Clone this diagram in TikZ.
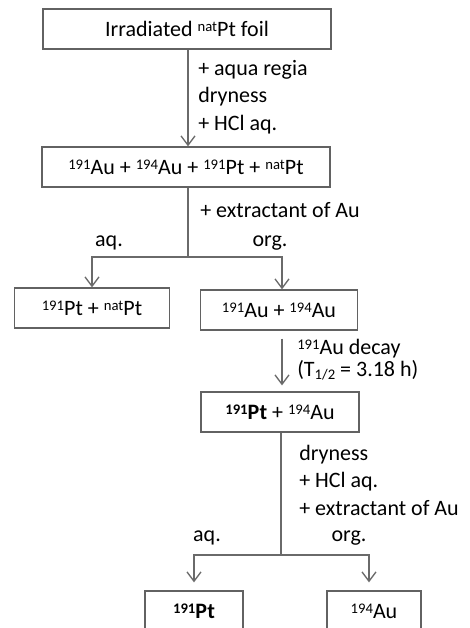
\documentclass[tikz,border=0pt]{standalone}
\usepackage{fontspec}
\setmainfont{Carlito}
\usetikzlibrary{arrows.meta,positioning}
\definecolor{linegray}{HTML}{6A6A6A}
\definecolor{boxgray}{HTML}{626262}
\newcommand{\iso}[1]{\raisebox{3.6pt}{\fontsize{11}{11}\selectfont #1}}
\newcommand{\lowidx}[1]{\raisebox{-2.5pt}{\fontsize{11}{11}\selectfont #1}}

\begin{document}
\begin{tikzpicture}[x=0.75pt, y=-0.75pt, >={Straight Barb[length=7pt,width=10.5pt]},
  box/.style={draw=boxgray, line width=1pt, minimum height=30pt, inner sep=0pt, font=\fontsize{16.5}{19}\selectfont},
  flow/.style={draw=linegray, line width=1pt},
  note/.style={anchor=west, align=left, inner sep=0pt, font=\fontsize{16.5}{20.6}\selectfont},
  phase/.style={inner sep=0pt, font=\fontsize{16.5}{19}\selectfont}]

\useasboundingbox (0,0) rectangle (469,628);

% Boxes
\node[box, minimum width=216pt] (foil) at (187,29) {Irradiated \iso{nat}Pt foil};
\node[box, minimum width=216pt] (mix) at (186,167) {\iso{191}Au + \iso{194}Au + \iso{191}Pt + \iso{nat}Pt};
\node[box, minimum width=116pt] (ptaq) at (92,308) {\iso{191}Pt + \iso{nat}Pt};
\node[box, minimum width=118pt] (auorg) at (279,310) {\iso{191}Au + \iso{194}Au};
\node[box, minimum width=118.5pt] (decayed) at (280,412) {\textbf{\iso{191}Pt} + \iso{194}Au};
\node[box, minimum width=73.5pt] (pt) at (194,611) {\textbf{\iso{191}Pt}};
\node[box, minimum width=70.5pt] (au) at (374,611) {\iso{194}Au};

% Junctions
\coordinate (split1) at (188,257);
\coordinate (split2) at (281,555);

% Connectors
\draw[flow, ->] (foil.south -| 188,0) -- (mix.north -| 188,0);
\draw[flow] (mix.south -| split1) -- (split1);
\draw[flow, ->] (split1) -| (ptaq);
\draw[flow, ->] (split1) -| (auorg.north -| 282,0);
\draw[flow, ->, shorten <=6pt, shorten >=4.5pt] (auorg.south -| 282,0) -- (decayed.north -| 282,0);
\draw[flow] (decayed.south -| split2) -- (split2);
\draw[flow, ->, shorten >=6pt] (split2) -| (pt);
\draw[flow, ->, shorten >=6pt] (split2) -| (au.north -| 369,0);

% Conditions
\node[note] (cond1) at (198,97) {+ aqua regia\\dryness\\+ HCl aq.};
\node[note] (cond2) at (200,210) {+ extractant of Au};
\node[note, font=\fontsize{16.5}{16.5}\selectfont] (cond3) at (297,360) {\iso{191}Au decay\\(T\lowidx{1/2} = 3.18 h)};
\node[note] (cond4) at (299,480) {dryness\\+ HCl aq.\\+ extractant of Au};

% Phases
\node[phase] (aq1) at (109,243) {aq.};
\node[phase] (org1) at (270,243) {org.};
\node[phase] (aq2) at (207,538) {aq.};
\node[phase] (org2) at (349,538) {org.};

\end{tikzpicture}
\end{document}
